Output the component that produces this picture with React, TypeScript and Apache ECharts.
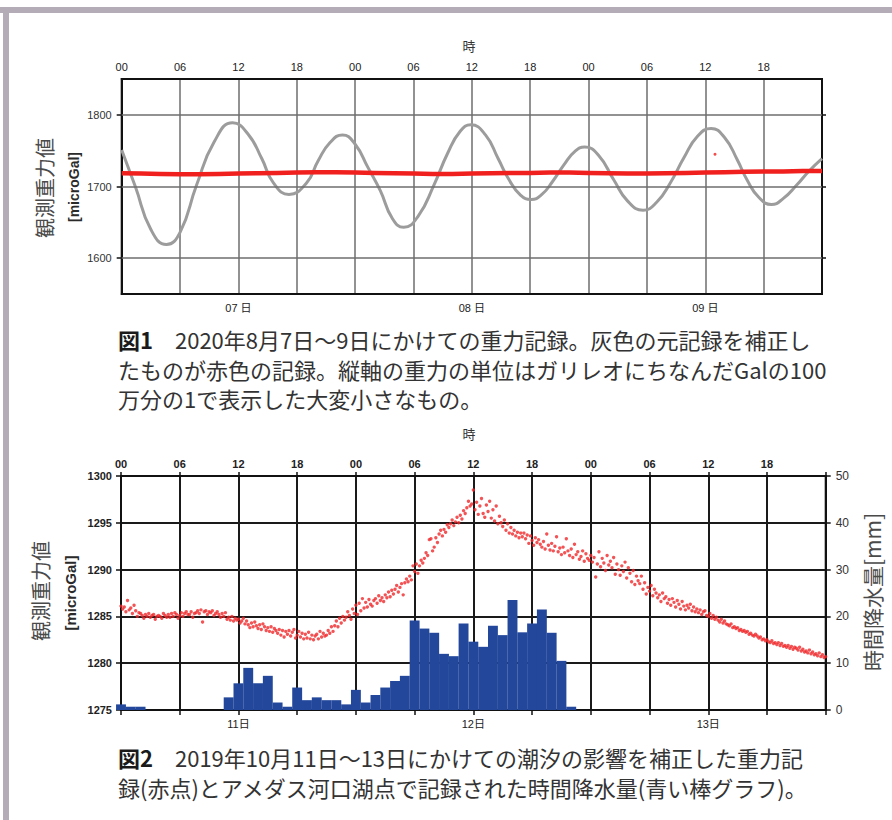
import React, { useEffect, useRef } from "react";
import * as echarts from "echarts";

// ---------- tick / category labels ----------
const hourTickLabels = ["00", "06", "12", "18"];
const fig1DayLabels = ["07 日", "08 日", "09 日"];
const fig2DayLabels = ["11日", "12日", "13日"];
const fig1GridValues = [1600, 1700, 1800];

// ---------- Fig.1 : raw (grey) record, hours since 7 Aug 00:00 ----------
const fig1TideHours = [
  0, 1.4, 3.0, 4.6, 6.0, 7.7, 9.5, 11.4, 13.0, 14.4, 15.6, 17.2, 19.0, 20.2, 21.4, 22.7,
  24.0, 25.3, 26.6, 27.8, 29.0, 30.5, 32.1, 33.5, 34.8, 35.9, 37.4, 38.7, 39.8, 41.0, 42.1,
  43.2, 44.3, 45.5, 46.6, 47.6, 49.0, 50.6, 52.0, 53.6, 55.0, 56.4, 57.8, 59.2, 60.6,
  62.0, 63.3, 64.3, 65.5, 66.8, 68.0, 69.4, 70.7, 72.0,
];
const fig1TideValues = [
  1751, 1700, 1640, 1619, 1636, 1702, 1762, 1789, 1773, 1739, 1705, 1689, 1705, 1736, 1761, 1772,
  1759, 1727, 1694, 1656, 1643, 1659, 1702, 1746, 1777, 1786, 1772, 1739, 1710, 1688, 1682,
  1689, 1707, 1731, 1749, 1755, 1744, 1709, 1680, 1667, 1678, 1705, 1740, 1770, 1781,
  1768, 1737, 1709, 1685, 1675, 1683, 1702, 1722, 1739,
];

// ---------- Fig.1 : corrected (red) record ----------
const fig1CorrectedHours = [
  0, 2, 4, 6, 8, 10, 12, 14, 16, 18, 20, 22, 24, 26, 28, 30, 32, 34, 36,
  38, 40, 42, 44, 46, 48, 50, 52, 54, 56, 58, 60, 62, 64, 66, 68, 70, 72,
];
const fig1CorrectedValues = [
  1718.5, 1718, 1717.5, 1717, 1717, 1717.5, 1718, 1718.5, 1719, 1719.5, 1720, 1720, 1719.5,
  1719, 1718.5, 1718, 1717.5, 1717.5, 1718, 1718.5, 1719, 1719, 1719.5, 1719.5, 1719,
  1718.5, 1718, 1718, 1718.5, 1719, 1719.5, 1720, 1720.5, 1721, 1721, 1721.5, 1721.5,
];
const fig1OutlierHours = [61.0];
const fig1OutlierValues = [1745];

// ---------- Fig.2 : hourly precipitation [mm], hour 0..72 ----------
const fig2RainHourly = [
  1.2, 0.7, 0.7, 0, 0, 0, 0, 0, 0, 0, 0, 2.7, 5.7, 9.0, 5.7, 7.3, 1.6, 0.7, 4.8, 2.1,
  2.7, 2.1, 2.1, 1.2, 4.3, 1.6, 3.2, 4.8, 6.2, 7.3, 19.1, 17.4, 16.5, 12.0, 11.5, 18.5,
  14.6, 13.5, 18.0, 16.0, 23.5, 16.6, 18.5, 21.5, 16.5, 10.5, 0.7, 0, 0, 0, 0, 0, 0, 0,
  0, 0, 0, 0, 0, 0, 0, 0, 0, 0, 0, 0, 0, 0, 0, 0, 0, 0, 0,
];

// ---------- Fig.2 : tide-corrected gravity [microGal], one value every 10 minutes ----------
const fig2SampleMinutes = 10;
const fig2Gravity = [
  1286.1, 1285.8, 1286.0, 1285.5, 1286.7, 1285.7,
  1285.9, 1285.3, 1286.2, 1285.6, 1285.0, 1285.4,
  1285.3, 1285.1, 1284.8, 1285.2, 1285.0, 1285.3,
  1284.9, 1285.1, 1285.2, 1284.7, 1285.0, 1285.1,
  1285.0, 1284.8, 1285.3, 1285.1, 1284.9, 1285.2,
  1284.9, 1285.3, 1285.0, 1285.4, 1285.2, 1284.8,
  1285.1, 1285.4, 1285.0, 1285.3, 1285.5, 1285.2,
  1285.2, 1285.5, 1284.9, 1285.3, 1285.4, 1285.6,
  1285.3, 1285.7, 1284.4, 1285.5, 1285.6, 1285.2,
  1285.5, 1285.4, 1285.6, 1285.1, 1285.3, 1285.5,
  1285.2, 1284.9, 1285.3, 1285.0, 1285.4, 1284.7,
  1284.9, 1284.6, 1285.0, 1284.5, 1284.8, 1284.6,
  1284.7, 1284.3, 1284.5, 1284.8, 1284.2, 1284.5,
  1284.1, 1283.8, 1284.3, 1283.9, 1284.4, 1284.0,
  1283.7, 1284.1, 1283.6, 1284.2, 1283.9, 1283.5,
  1283.8, 1283.4, 1283.9, 1283.3, 1283.7, 1283.5,
  1283.2, 1283.6, 1283.0, 1283.5, 1282.8, 1283.4,
  1283.1, 1283.5, 1282.9, 1283.3, 1283.6, 1282.7,
  1283.0, 1283.4, 1282.8, 1283.2, 1282.6, 1283.1,
  1282.7, 1283.3, 1282.6, 1283.0, 1282.5, 1282.9,
  1283.1, 1282.6, 1283.4, 1282.8, 1283.2, 1282.9,
  1283.0, 1283.5, 1283.2, 1283.9, 1283.4, 1284.0,
  1284.5, 1283.9, 1284.8, 1284.3, 1285.0, 1284.6,
  1284.9, 1285.5, 1285.1, 1284.7, 1285.8, 1285.3,
  1286.2, 1285.2, 1286.4, 1285.6, 1286.9, 1285.9,
  1286.5, 1286.0, 1286.8, 1286.3, 1286.1, 1286.7,
  1286.9, 1286.4, 1287.2, 1286.7, 1287.0, 1286.6,
  1287.3, 1287.0, 1287.6, 1287.1, 1287.8, 1287.4,
  1287.9, 1288.3, 1287.6, 1288.1, 1288.5, 1287.3,
  1288.6, 1289.0, 1288.7, 1289.3, 1288.9, 1290.4,
  1289.8, 1290.6, 1289.6, 1290.4, 1291.0, 1290.7,
  1291.2, 1291.8, 1291.5, 1293.2, 1293.3, 1292.0,
  1292.4, 1293.4, 1292.9, 1293.8, 1294.2, 1293.6,
  1294.3, 1294.0, 1294.8, 1294.5, 1294.9, 1295.3,
  1294.7, 1295.1, 1295.6, 1295.0, 1295.8, 1295.4,
  1296.3, 1296.0, 1296.6, 1297.3, 1296.8, 1297.0,
  1298.5, 1296.4, 1297.2, 1295.9, 1296.8, 1297.6,
  1296.0, 1295.6, 1296.9, 1296.2, 1297.3, 1295.5,
  1296.4, 1295.2, 1296.8, 1294.9, 1295.7, 1295.0,
  1294.6, 1295.3, 1294.2, 1294.9, 1293.9, 1294.5,
  1293.8, 1294.2, 1293.6, 1294.0, 1293.4, 1293.9,
  1293.5, 1293.9, 1293.3, 1293.7, 1292.8, 1293.6,
  1293.1, 1292.6, 1293.4, 1292.9, 1293.2, 1292.7,
  1292.4, 1293.0, 1292.2, 1293.8, 1292.6, 1292.1,
  1292.8, 1292.0, 1292.5, 1293.5, 1291.9, 1292.3,
  1291.6, 1292.4, 1291.8, 1293.3, 1292.0, 1291.5,
  1292.2, 1291.3, 1292.7, 1291.6, 1291.9, 1291.1,
  1291.4, 1292.0, 1290.9, 1291.7, 1291.2, 1291.0,
  1291.5, 1290.8, 1291.3, 1289.2, 1290.6, 1291.9,
  1290.3, 1291.2, 1290.7, 1289.9, 1291.5, 1290.5,
  1290.9, 1290.2, 1291.3, 1289.5, 1290.6, 1290.0,
  1289.4, 1290.4, 1289.8, 1290.8, 1289.1, 1290.2,
  1289.6, 1288.7, 1289.9, 1288.4, 1289.3, 1288.8,
  1288.5, 1289.3, 1287.9, 1288.6, 1287.4, 1288.1,
  1287.7, 1288.3, 1287.2, 1287.9, 1287.5, 1287.0,
  1287.3, 1286.6, 1287.5, 1286.9, 1287.1, 1286.4,
  1286.8, 1286.2, 1286.9, 1286.5, 1286.0, 1286.7,
  1286.3, 1285.8, 1286.6, 1286.1, 1285.7, 1286.2,
  1285.9, 1286.3, 1285.6, 1286.0, 1285.5, 1285.8,
  1285.4, 1285.7, 1285.2, 1285.5, 1285.6, 1285.1,
  1285.0, 1285.3, 1284.8, 1285.1, 1284.7, 1284.9,
  1284.6, 1284.4, 1284.7, 1284.3, 1284.5, 1284.2,
  1284.1, 1284.0, 1284.2, 1283.8, 1283.9, 1283.7,
  1283.8, 1283.5, 1283.6, 1283.4, 1283.5, 1283.3,
  1283.4, 1283.1, 1283.2, 1283.0, 1282.9, 1283.1,
  1282.9, 1282.7, 1282.8, 1282.5, 1282.6, 1282.4,
  1282.5, 1282.3, 1282.2, 1282.4, 1282.1, 1282.2,
  1282.0, 1282.2, 1281.9, 1282.1, 1281.8, 1281.9,
  1281.7, 1281.9, 1281.6, 1281.8, 1281.5, 1281.7,
  1281.6, 1281.4, 1281.7, 1281.3, 1281.5, 1281.2,
  1281.3, 1281.1, 1281.4, 1281.0, 1281.2, 1280.9,
  1281.0, 1280.8, 1281.1, 1280.7, 1280.9, 1280.6,
  1280.7,
];

// ---------- texts ----------
const hourAxisTitle = "時";
const gravityAxisTitle = "観測重力値";
const gravityUnit = "[microGal]";
const rainAxisTitle = "時間降水量[mm]";
const fig1Caption = [
  "{b|図1}　2020年8月7日～9日にかけての重力記録。灰色の元記録を補正し",
  "たものが赤色の記録。縦軸の重力の単位はガリレオにちなんだGalの100",
  "万分の1で表示した大変小さなもの。",
];
const fig2Caption = [
  "{b|図2}　2019年10月11日～13日にかけての潮汐の影響を補正した重力記",
  "録(赤点)とアメダス河口湖点で記録された時間降水量(青い棒グラフ)。",
];

const numFont = '"Liberation Sans", Arial, "Noto Sans CJK JP", sans-serif';
const jpFont = '"Noto Sans CJK JP", sans-serif';

const hourFmt = (v: number) => (v >= 72 ? "" : hourTickLabels[Math.round(v / 6) % 4]);
const dayFmt = (labels: string[]) => (v: number) =>
  Math.abs((v % 24) - 12) < 0.01 ? labels[Math.floor(v / 24)] : "";

function textEl(x: number, y: number, text: string, opts: any = {}) {
  const align = opts.align || "center";
  const fs = opts.fontSize || 13;
  return {
    type: "text",
    x,
    y,
    rotation: opts.rotation || 0,
    silent: true,
    style: {
      text,
      fontSize: fs,
      fontFamily: opts.fontFamily || jpFont,
      fontWeight: opts.fontWeight || "normal",
      fill: opts.fill || "#333",
      lineHeight: opts.lineHeight || Math.round(fs * 1.15),
      align,
      verticalAlign: "middle",
      textAlign: align,
      textVerticalAlign: "middle",
      rich: opts.rich,
    },
  };
}

export default function App() {
  const ref = useRef<HTMLDivElement>(null);

  useEffect(() => {
    document.body.style.margin = "0";
    if (!ref.current) return;
    const chart = echarts.init(ref.current, undefined, { renderer: "svg" });

    const tideData = fig1TideHours.map((h, i) => [h, fig1TideValues[i]]);
    const corrData = fig1CorrectedHours.map((h, i) => [h, fig1CorrectedValues[i]]);
    const outData = fig1OutlierHours.map((h, i) => [h, fig1OutlierValues[i]]);
    const rainData = fig2RainHourly.map((v, i) => [i, v]);
    const gravData = fig2Gravity.map((v, i) => [(i * fig2SampleMinutes) / 60, v]);

    const capRich = (fs: number) => ({
      b: { fontWeight: "bold", fontSize: fs, lineHeight: fs + 2, fontFamily: jpFont, fill: "#1a1a1a" },
    });

    const graphic: any[] = [
      { type: "rect", silent: true, shape: { x: 0, y: 7, width: 892, height: 6 }, style: { fill: "#b4acb6" } },
      { type: "rect", silent: true, shape: { x: 3, y: 7, width: 6, height: 813 }, style: { fill: "#b4acb6" } },
      textEl(469, 45, hourAxisTitle, { fontSize: 13 }),
      textEl(469, 433, hourAxisTitle, { fontSize: 13 }),
      textEl(44, 188, gravityAxisTitle, { fontSize: 20, rotation: Math.PI / 2, fill: "#4a4a4a" }),
      textEl(74, 187, gravityUnit, { fontSize: 14, rotation: Math.PI / 2, fontFamily: numFont, fontWeight: "bold", fill: "#2a2a2a" }),
      textEl(40, 591, gravityAxisTitle, { fontSize: 20, rotation: Math.PI / 2, fill: "#4a4a4a" }),
      textEl(70, 593, gravityUnit, { fontSize: 15, rotation: Math.PI / 2, fontFamily: numFont, fontWeight: "bold", fill: "#2a2a2a" }),
      textEl(872, 592, rainAxisTitle, { fontSize: 21, rotation: Math.PI / 2, fill: "#4a4a4a" }),
    ];
    fig1Caption.forEach((t, i) =>
      graphic.push(textEl(118, 339 + i * 29.5, t, { align: "left", fontSize: 22, lineHeight: 24, fill: "#333", rich: capRich(22) }))
    );
    fig2Caption.forEach((t, i) =>
      graphic.push(textEl(118, 757 + i * 30, t, { align: "left", fontSize: 22, lineHeight: 24, fill: "#333", rich: capRich(22) }))
    );

    const axisLine = { show: true, onZero: false, lineStyle: { color: "#111", width: 2 } };

    chart.setOption({
      animation: false,
      backgroundColor: "#ffffff",
      grid: [
        { left: 121.7, top: 79, width: 700.3, height: 215, show: true, borderColor: "#111", borderWidth: 2 },
        { left: 121, top: 476, width: 704.7, height: 234, show: true, borderColor: "#111", borderWidth: 2 },
      ],
      xAxis: [
        {
          gridIndex: 0, type: "value", min: 0, max: 72, interval: 6, position: "top",
          axisLine, axisTick: { show: false },
          axisLabel: { formatter: hourFmt, fontSize: 11, color: "#222", fontFamily: numFont, margin: 7 },
          splitLine: { show: true, lineStyle: { color: "#6e6e6e", width: 1.5 } },
        },
        {
          gridIndex: 0, type: "value", min: 0, max: 72, interval: 6, position: "bottom",
          axisLine, axisTick: { show: false },
          axisLabel: { formatter: dayFmt(fig1DayLabels), fontSize: 11, color: "#222", fontFamily: numFont, margin: 8 },
          splitLine: { show: false },
        },
        {
          gridIndex: 1, type: "value", min: 0, max: 72, interval: 6, position: "top",
          axisLine, axisTick: { show: true, length: 4, lineStyle: { color: "#111", width: 1.5 } },
          axisLabel: { formatter: hourFmt, fontSize: 11, fontWeight: "bold", color: "#222", fontFamily: numFont, margin: 7 },
          splitLine: { show: true, lineStyle: { color: "#1a1a1a", width: 2 } },
        },
        {
          gridIndex: 1, type: "value", min: 0, max: 72, interval: 6, position: "bottom",
          axisLine, axisTick: { show: true, length: 5, lineStyle: { color: "#111", width: 1.5 } },
          axisLabel: { formatter: dayFmt(fig2DayLabels), fontSize: 11, color: "#222", fontFamily: numFont, margin: 8 },
          splitLine: { show: false },
        },
      ],
      yAxis: [
        {
          gridIndex: 0, type: "value", min: 1550, max: 1850, interval: 50, position: "left",
          axisLine,
          axisTick: { show: true, length: 5, customValues: fig1GridValues, lineStyle: { color: "#111", width: 1.5 } },
          axisLabel: {
            customValues: fig1GridValues,
            formatter: (v: number) => (fig1GridValues.indexOf(v) >= 0 ? String(v) : ""),
            fontSize: 11, color: "#333", fontFamily: numFont, margin: 10,
          },
          splitLine: { show: false },
        },
        {
          gridIndex: 0, type: "value", min: 1550, max: 1850, interval: 50, position: "right",
          axisLine,
          axisTick: { show: true, length: 4, customValues: fig1GridValues, lineStyle: { color: "#111", width: 1.5 } },
          axisLabel: { show: false },
          splitLine: { show: false },
        },
        {
          gridIndex: 1, type: "value", min: 1275, max: 1300, interval: 5, position: "left",
          axisLine, axisTick: { show: true, length: 5, lineStyle: { color: "#111", width: 1.5 } },
          axisLabel: { formatter: (v: number) => String(v), fontSize: 11, fontWeight: "bold", color: "#222", fontFamily: numFont, margin: 9 },
          splitLine: { show: true, lineStyle: { color: "#1a1a1a", width: 2 } },
        },
        {
          gridIndex: 1, type: "value", min: 0, max: 50, interval: 10, position: "right",
          axisLine, axisTick: { show: true, length: 5, lineStyle: { color: "#111", width: 1.5 } },
          axisLabel: { formatter: (v: number) => String(v), fontSize: 12, color: "#333", fontFamily: numFont, margin: 10 },
          splitLine: { show: false },
        },
      ],
      series: [
        {
          type: "line", xAxisIndex: 0, yAxisIndex: 0, data: [], z: 1, silent: true,
          markLine: {
            silent: true, symbol: ["none", "none"], label: { show: false },
            lineStyle: { color: "#6e6e6e", width: 1.5, type: "solid" },
            data: fig1GridValues.map((v) => ({ yAxis: v })),
          },
        },
        {
          type: "line", xAxisIndex: 0, yAxisIndex: 0, data: tideData, smooth: 0.5, showSymbol: false, z: 3,
          lineStyle: { color: "#9c9c9c", width: 3 },
        },
        {
          type: "line", xAxisIndex: 0, yAxisIndex: 0, data: corrData, showSymbol: false, z: 4,
          lineStyle: { color: "#f0201e", width: 4.5 },
        },
        {
          type: "scatter", xAxisIndex: 0, yAxisIndex: 0, data: outData, symbolSize: 3, z: 4,
          itemStyle: { color: "#f0201e" },
        },
        {
          type: "bar", xAxisIndex: 3, yAxisIndex: 3, data: rainData, barWidth: 9.9, z: 2,
          itemStyle: { color: "#23479b" },
        },
        {
          type: "scatter", xAxisIndex: 2, yAxisIndex: 2, data: gravData, symbolSize: 3.4, z: 4,
          itemStyle: { color: "#f0282a" },
        },
      ],
      graphic,
    });

    return () => chart.dispose();
  }, []);

  return <div ref={ref} style={{ width: 892, height: 820 }} />;
}
